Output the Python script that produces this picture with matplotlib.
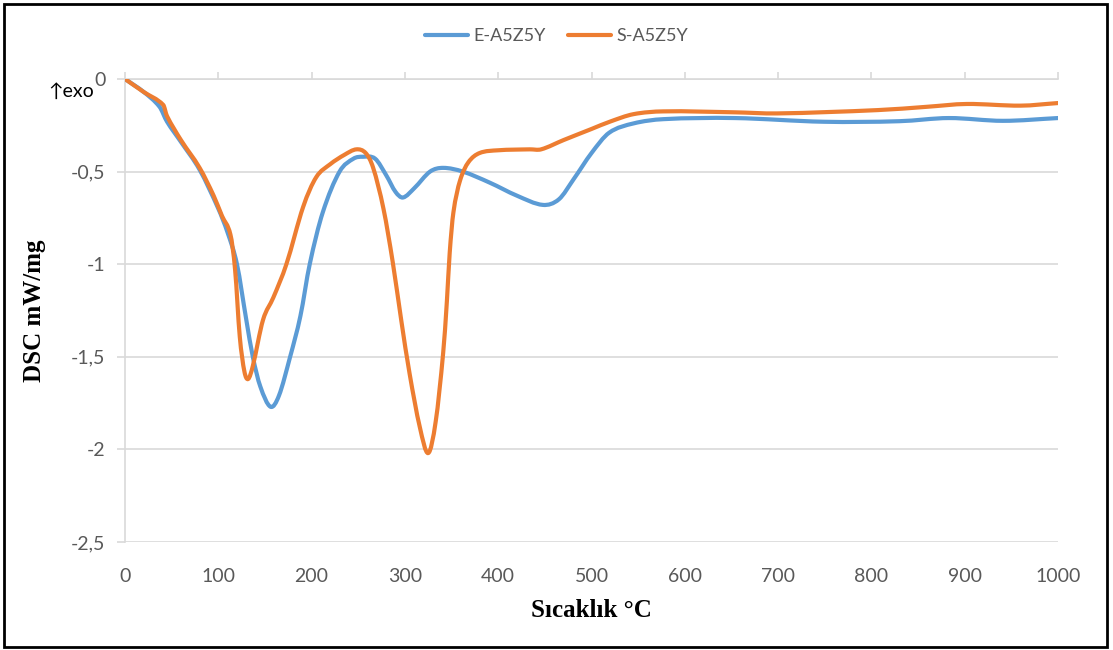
import matplotlib

matplotlib.use("Agg")
import matplotlib.pyplot as plt
from matplotlib.lines import Line2D
from matplotlib.patches import PathPatch, Rectangle
from matplotlib.path import Path

# DSC curves (temperature in °C, DSC in mW/mg)
e_temp = [0, 20, 37, 45, 60, 80, 100, 110, 120, 130, 137, 145, 156, 165, 177,
          188, 198, 212, 230, 245, 255, 268, 280, 290, 298, 310, 327, 341, 362,
          391, 420, 448, 465, 481, 500, 519, 545, 577, 653, 749, 830, 883, 941, 1000]
e_dsc = [0, -0.07, -0.15, -0.23, -0.34, -0.49, -0.70, -0.83, -1.00, -1.30, -1.50, -1.66,
         -1.77, -1.71, -1.50, -1.28, -1.00, -0.72, -0.50, -0.43, -0.42, -0.43, -0.52, -0.61,
         -0.64, -0.59, -0.50, -0.48, -0.50, -0.56, -0.63, -0.68, -0.65, -0.54, -0.40, -0.29,
         -0.24, -0.217, -0.211, -0.231, -0.228, -0.211, -0.226, -0.211]

s_temp = [0, 20, 41, 45, 60, 80, 95, 104, 113, 118, 123, 128, 132, 137, 148, 159, 173,
          191, 205, 220, 235, 248, 258, 266, 277, 287, 296, 305, 316, 325, 333, 341,
          345, 348, 352, 359, 368, 380, 400, 434, 446, 470, 500, 520, 545, 577, 653,
          699, 807, 860, 902, 960, 1000]
s_dsc = [0, -0.07, -0.14, -0.20, -0.33, -0.48, -0.63, -0.74, -0.84, -1.03, -1.39, -1.58,
         -1.62, -1.55, -1.30, -1.18, -1.00, -0.69, -0.53, -0.46, -0.41, -0.38, -0.40, -0.48,
         -0.70, -0.99, -1.30, -1.59, -1.88, -2.02, -1.85, -1.48, -1.20, -0.94, -0.72, -0.55,
         -0.45, -0.40, -0.385, -0.38, -0.38, -0.33, -0.27, -0.23, -0.19, -0.175, -0.18,
         -0.186, -0.168, -0.15, -0.135, -0.144, -0.13]

x_ticks = list(range(0, 1001, 100))
y_ticks = [0, -0.5, -1, -1.5, -2, -2.5]
y_tick_labels = ["0", "-0,5", "-1", "-1,5", "-2", "-2,5"]

BLUE = "#5B9BD5"
ORANGE = "#ED7D31"
GRID = "#D9D9D9"
TEXT = "#595959"
SANS = ["Lato", "DejaVu Sans"]
LW = 3.0


def smooth_path(xs, ys):
    """Excel-style smoothed line: cubic Bezier through every data point."""
    n = len(xs)
    verts = [(xs[0], ys[0])]
    codes = [Path.MOVETO]

    def slope(i):
        a, b = max(i - 1, 0), min(i + 1, n - 1)
        return (ys[b] - ys[a]) / (xs[b] - xs[a])

    for i in range(n - 1):
        dx = xs[i + 1] - xs[i]
        m0, m1 = slope(i), slope(i + 1)
        verts.append((xs[i] + dx / 3, ys[i] + m0 * dx / 3))
        verts.append((xs[i + 1] - dx / 3, ys[i + 1] - m1 * dx / 3))
        verts.append((xs[i + 1], ys[i + 1]))
        codes += [Path.CURVE4] * 3
    return Path(verts, codes)


def main() -> None:
    fig = plt.figure(figsize=(11.13, 6.5), dpi=100)
    ax = fig.add_axes([0.1123, 0.1662, 0.8383, 0.7123])

    for xs, ys, color in ((e_temp, e_dsc, BLUE), (s_temp, s_dsc, ORANGE)):
        ax.add_patch(PathPatch(smooth_path(xs, ys), facecolor="none", edgecolor=color,
                               linewidth=LW, joinstyle="round", capstyle="round",
                               zorder=3))

    ax.set_xlim(0, 1000)
    ax.set_ylim(-2.5, 0)
    ax.set_xticks(x_ticks)
    ax.set_yticks(y_ticks)
    ax.set_yticklabels(y_tick_labels)

    ax.grid(axis="y", color=GRID, linewidth=1.2)
    ax.set_axisbelow(True)
    for side in ("right", "bottom"):
        ax.spines[side].set_visible(False)
    for side in ("left", "top"):
        ax.spines[side].set_color(GRID)
        ax.spines[side].set_linewidth(1.2)

    # category axis crosses at 0 (top), labels sit low as in Excel
    ax.tick_params(axis="x", top=True, bottom=False, labeltop=False, labelbottom=True,
                   direction="out", length=5, color=GRID, width=1.2, pad=14,
                   labelsize=14, labelcolor=TEXT)
    ax.tick_params(axis="y", direction="out", length=6, color=GRID, width=1.2, pad=8,
                   labelsize=14, labelcolor=TEXT)
    for lab in ax.get_xticklabels() + ax.get_yticklabels():
        lab.set_family(SANS)

    ax.set_xlabel("Sıcaklık °C", family="Liberation Serif", fontweight="bold",
                  fontsize=18, labelpad=10)
    ax.set_ylabel("DSC mW/mg", family="Liberation Serif", fontweight="bold",
                  fontsize=18, labelpad=18)

    fig.text(94 / 1113, 1 - 91 / 650, "↑exo", family=SANS, fontsize=14, color="black",
             ha="right", va="center")

    handles = [Line2D([], [], color=BLUE, linewidth=LW, solid_capstyle="round"),
               Line2D([], [], color=ORANGE, linewidth=LW, solid_capstyle="round")]
    leg = fig.legend(handles, ["E-A5Z5Y", "S-A5Z5Y"], loc="center",
                     bbox_to_anchor=(0.5, 1 - 36 / 650), ncol=2, frameon=False,
                     handlelength=2.4, handletextpad=0.3, columnspacing=1.2,
                     prop={"family": SANS, "size": 13})
    for t in leg.get_texts():
        t.set_color(TEXT)

    fig.patches.append(Rectangle((0.004, 0.004), 0.991, 0.99, transform=fig.transFigure,
                                 fill=False, edgecolor="black", linewidth=2))

    fig.savefig("out.png", dpi=100)
    plt.close(fig)


if __name__ == "__main__":
    main()
